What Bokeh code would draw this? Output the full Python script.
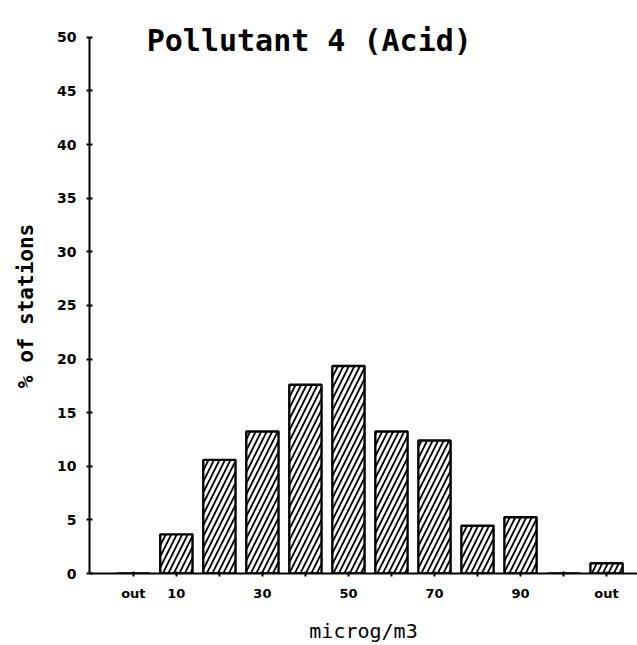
from bokeh.plotting import figure
from bokeh.models import FixedTicker, Label, Range1d, ColumnDataSource
from bokeh.embed import file_html
from bokeh.resources import INLINE

# ---- data ----
bin_labels = ["out", "10", "20", "30", "40", "50", "60", "70", "80", "90", "100", "out"]
pct = [0.0, 3.65, 10.6, 13.25, 17.6, 19.35, 13.25, 12.4, 4.45, 5.25, 0.0, 0.95]
shown_labels = {0: "out", 1: "10", 3: "30", 5: "50", 7: "70", 9: "90", 11: "out"}
y_ticks = [0, 5, 10, 15, 20, 25, 30, 35, 40, 45, 50]

title_text = "Pollutant 4 (Acid)"
x_title = "microg/m3"
y_title = "% of stations"

xs = list(range(len(bin_labels)))
src = ColumnDataSource(dict(x=xs, top=pct, name=bin_labels))

p = figure(width=637, height=645, output_backend="svg", toolbar_location=None,
           x_range=Range1d(-1.02, 11.72), y_range=Range1d(0, 53.44),
           min_border_left=89, min_border_right=0, min_border_top=0, min_border_bottom=70)
p.outline_line_color = None
p.xgrid.grid_line_color = None
p.ygrid.grid_line_color = None
p.background_fill_color = "white"
p.border_fill_color = "white"

p.vbar(x="x", top="top", bottom=0, width=0.75, source=src,
       fill_color="white", line_color="black", line_width=2.4,
       hatch_pattern="/", hatch_color="black", hatch_weight=1.8, hatch_scale=11)

# axes
xa = p.xaxis[0]
xa.ticker = FixedTicker(ticks=xs)
xa.major_label_overrides = {i: shown_labels.get(i, "") for i in xs}
xa.axis_line_width = 2
xa.major_tick_in = 2
xa.major_tick_out = 3
xa.major_tick_line_width = 2
xa.minor_tick_line_color = None
xa.major_label_standoff = 9
xa.major_label_text_color = "black"
xa.major_label_text_font = "DejaVu Sans"
xa.major_label_text_font_style = "bold"
xa.major_label_text_font_size = "13px"
xa.axis_label = x_title
xa.axis_label_text_color = "black"
xa.axis_label_text_font = "DejaVu Sans Mono"
xa.axis_label_text_font_style = "normal"
xa.axis_label_text_font_size = "20px"
xa.axis_label_standoff = 15

ya = p.yaxis[0]
ya.ticker = FixedTicker(ticks=y_ticks)
ya.bounds = (0, 50)
ya.axis_line_width = 2
ya.major_tick_in = 3
ya.major_tick_out = 3
ya.major_tick_line_width = 2
ya.minor_tick_line_color = None
ya.major_label_standoff = 10
ya.major_label_text_color = "black"
ya.major_label_text_font = "DejaVu Sans"
ya.major_label_text_font_style = "bold"
ya.major_label_text_font_size = "14px"
ya.axis_label = y_title + "\u00a0\u00a0\u00a0"
ya.axis_label_text_color = "black"
ya.axis_label_text_font = "DejaVu Sans Mono"
ya.axis_label_text_font_style = "bold"
ya.axis_label_text_font_size = "21px"
ya.axis_label_standoff = 16

p.add_layout(Label(x=4.09, y=50, y_offset=-3, text=title_text,
                   text_align="center", text_baseline="alphabetic",
                   text_font="DejaVu Sans Mono", text_font_style="bold",
                   text_font_size="30px", text_color="black"))

open("out.html", "w").write(file_html(p, INLINE))
